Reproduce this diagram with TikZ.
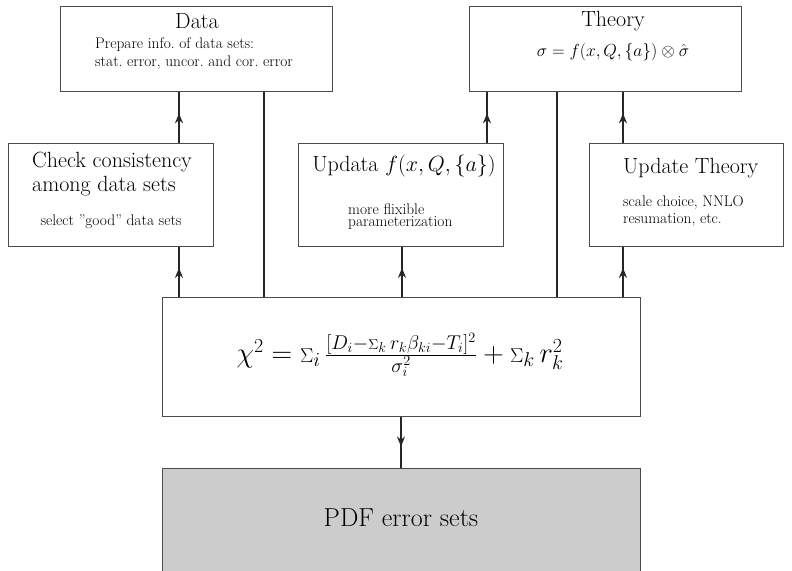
\RequirePackage{fix-cm}
\documentclass[tikz,border=0pt]{standalone}
\usepackage{fontspec}
\usetikzlibrary{arrows.meta,decorations.markings}
\tikzset{
  frame/.style={draw=black!70, line width=0.8pt, inner sep=0pt, anchor=north west},
  link/.style={draw=black!85, line width=1.8pt},
  midarrow/.style={postaction={decorate}, decoration={markings,
      mark=at position 0.58 with {\arrow{Stealth[length=10pt,width=8pt]}}}},
  title/.style={font=\fontsize{22}{26}\selectfont, inner sep=0pt},
  note/.style={font=\fontsize{15.4}{18}\selectfont, inner sep=0pt},
  big/.style={font=\fontsize{28.5}{33}\selectfont, inner sep=0pt},
}
\begin{document}
\begin{tikzpicture}[x=1pt,y=-1pt]
\useasboundingbox (0,0) rectangle (792,570);

% boxes
\node[frame, minimum width=272pt, minimum height=85pt] (data) at (60,6) {};
\node[frame, minimum width=272pt, minimum height=85pt] (theory) at (469,6) {};
\node[frame, minimum width=205pt, minimum height=103pt] (check) at (8,143) {};
\node[frame, minimum width=205pt, minimum height=103pt] (updata) at (298,143) {};
\node[frame, minimum width=194pt, minimum height=103pt] (updth) at (589,143) {};
\node[frame, minimum width=478pt, minimum height=119pt] (chi) at (162,297) {};
\node[frame, fill=black!20, minimum width=478pt, minimum height=115pt] (pdf) at (162,468) {};

% texts in the boxes
\node[title] (dataT) at (197,21) {Data};
\node[note, anchor=west] (dataA) at (95,45) {Prepare info.\ of data sets:};
\node[note, anchor=west] (dataB) at (95,63) {stat.\ error, uncor.\ and cor.\ error};

\node[title] (theoryT) at (613,21) {Theory};
\node[note, font=\fontsize{17.5}{21}\selectfont] (theoryF) at (613,52)
  {$\sigma = f(x,Q,\{a\}) \otimes \hat{\sigma}$};

\node[title, anchor=west] (checkA) at (32,162) {Check consistency};
\node[title, anchor=west] (checkB) at (32,186) {among data sets};
\node[note] (checkC) at (111,222) {select ''good'' data sets};

\node[title] (updataT) at (404,166) {Updata $f(x,Q,\{a\})$};
\node[note, anchor=west] (updataA) at (348,209) {more flixible};
\node[note, anchor=west] (updataB) at (348,223) {parameterization};

\node[title, anchor=west] (updthT) at (623,168) {Update Theory};
\node[note, anchor=west] (updthA) at (623,203) {scale choice, NNLO};
\node[note, anchor=west] (updthB) at (623,220) {resumation, etc.};

\node[big] (chiF) at (400,355)
  {$\chi^2 = {\scriptstyle\Sigma}_i\,
    \frac{[D_i - {\scriptscriptstyle\Sigma}_k\, r_k \beta_{ki} - T_i]^2}{\sigma_i^2}
    + {\scriptstyle\Sigma}_k\, r_k^2$};

\node[big, font=\fontsize{26}{30}\selectfont] (pdfT) at (401,518) {PDF error sets};

% connectors
\draw[link, midarrow] (check.north -| 179,0) -- (data.south -| 179,0);
\draw[link, midarrow] (chi.north -| 179,0) -- (check.south -| 179,0);
\draw[link] (data.south -| 264,0) -- (chi.north -| 264,0);
\draw[link, midarrow] (chi.north -| 402,0) -- (updata.south -| 402,0);
\draw[link, midarrow] (updata.north -| 487,0) -- (theory.south -| 487,0);
\draw[link] (theory.south -| 557,0) -- (chi.north -| 557,0);
\draw[link, midarrow] (chi.north -| 623,0) -- (updth.south -| 623,0);
\draw[link, midarrow] (updth.north -| 623,0) -- (theory.south -| 623,0);
\draw[link, midarrow] (chi.south -| 401,0) -- (pdf.north -| 401,0);
\end{tikzpicture}
\end{document}
